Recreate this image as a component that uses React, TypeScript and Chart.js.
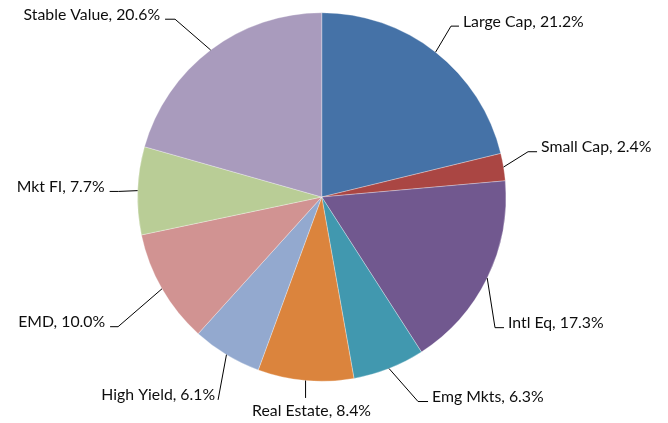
import React, { useEffect, useRef } from "react";
import { Chart, registerables } from "chart.js";

Chart.register(...registerables);

const categories = [
  "Large Cap",
  "Small Cap",
  "Intl Eq",
  "Emg Mkts",
  "Real Estate",
  "High Yield",
  "EMD",
  "Mkt FI",
  "Stable Value",
];
const values = [21.2, 2.4, 17.3, 6.3, 8.4, 6.1, 10.0, 7.7, 20.6];
const colors = [
  "#4572A7",
  "#AA4643",
  "#71588F",
  "#4198AF",
  "#DB843D",
  "#93A9CF",
  "#D19392",
  "#B9CD96",
  "#A99BBD",
];

// leader line layout: elbow offset from the arc anchor, horizontal segment length, label placement
const leaderLayout = [
  { dx: 15.4, dy: -26, seg: 8, side: "right" },
  { dx: 24.5, dy: -15.3, seg: 9, side: "right" },
  { dx: 7.8, dy: 49.6, seg: 9, side: "right" },
  { dx: 29, dy: 33, seg: 10, side: "right" },
  { dx: 0, dy: 17.4, seg: 0, side: "below" },
  { dx: -8.4, dy: 45.2, seg: 0, side: "left" },
  { dx: -43.9, dy: 37.9, seg: -8, side: "left" },
  { dx: -19, dy: 0.8, seg: -9, side: "left" },
  { dx: -35.6, dy: -30.8, seg: -10, side: "left" },
];

const calloutPlugin = {
  id: "callouts",
  afterDatasetsDraw(chart: any) {
    const ctx = chart.ctx;
    const meta = chart.getDatasetMeta(0);
    ctx.save();
    ctx.font = "15.8px Lato, 'Open Sans', sans-serif";
    ctx.fillStyle = "#0d0d0d";
    ctx.strokeStyle = "#000";
    ctx.lineWidth = 1;
    meta.data.forEach((arc: any, i: number) => {
      const { x, y, outerRadius, startAngle, endAngle } = arc.getProps(
        ["x", "y", "outerRadius", "startAngle", "endAngle"],
        true
      );
      const mid = (startAngle + endAngle) / 2;
      const ax = x + Math.cos(mid) * outerRadius;
      const ay = y + Math.sin(mid) * outerRadius;
      const lay = leaderLayout[i];
      const ex = ax + lay.dx;
      const ey = ay + lay.dy;
      const hx = ex + lay.seg;
      ctx.beginPath();
      ctx.moveTo(ax, ay);
      ctx.lineTo(ex, ey);
      if (lay.seg !== 0) ctx.lineTo(hx, ey);
      ctx.stroke();
      const text = `${categories[i]}, ${values[i].toFixed(1)}%`;
      ctx.textBaseline = "alphabetic";
      if (lay.side === "right") {
        ctx.textAlign = "left";
        ctx.fillText(text, hx + 4, ey + 0.5);
      } else if (lay.side === "left") {
        ctx.textAlign = "right";
        ctx.fillText(text, hx - (lay.seg === 0 ? 3 : 5), ey + 0.5);
      } else {
        ctx.textAlign = "center";
        ctx.fillText(text, ex + 6, ey + 18);
      }
    });
    ctx.restore();
  },
};

export default function App() {
  const ref = useRef<HTMLCanvasElement | null>(null);
  useEffect(() => {
    if (!ref.current) return;
    const chart = new Chart(ref.current, {
      type: "pie",
      data: {
        labels: categories,
        datasets: [
          {
            data: values,
            backgroundColor: colors,
            borderColor: "rgba(255,255,255,0.3)",
            borderWidth: 1,
          },
        ],
      },
      options: {
        animation: false,
        responsive: false,
        layout: { padding: { left: 137, right: 161.5, top: 12, bottom: 41 } },
        plugins: {
          legend: { display: false },
          tooltip: { enabled: false },
        },
      },
      plugins: [calloutPlugin],
    });
    return () => chart.destroy();
  }, []);
  return (
    <div style={{ position: "fixed", left: 0, top: 0, width: 668, height: 423, background: "#fff" }}>
      <canvas ref={ref} width={668} height={423} style={{ width: 668, height: 423 }} />
    </div>
  );
}
